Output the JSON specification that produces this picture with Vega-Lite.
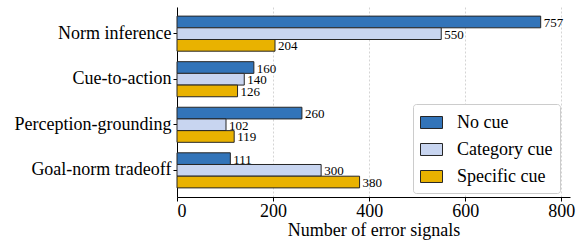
{
  "$schema": "https://vega.github.io/schema/vega-lite/v6.json",
  "width": 393,
  "height": 190,
  "autosize": {"type": "none"},
  "padding": {"left": 177, "top": 7, "right": 6, "bottom": 45},
  "background": "white",
  "data": {
    "values": [
      {"category": "Norm inference", "series": "No cue", "value": 757},
      {"category": "Norm inference", "series": "Category cue", "value": 550},
      {"category": "Norm inference", "series": "Specific cue", "value": 204},
      {"category": "Cue-to-action", "series": "No cue", "value": 160},
      {"category": "Cue-to-action", "series": "Category cue", "value": 140},
      {"category": "Cue-to-action", "series": "Specific cue", "value": 126},
      {"category": "Perception-grounding", "series": "No cue", "value": 260},
      {"category": "Perception-grounding", "series": "Category cue", "value": 102},
      {"category": "Perception-grounding", "series": "Specific cue", "value": 119},
      {"category": "Goal-norm tradeoff", "series": "No cue", "value": 111},
      {"category": "Goal-norm tradeoff", "series": "Category cue", "value": 300},
      {"category": "Goal-norm tradeoff", "series": "Specific cue", "value": 380}
    ]
  },
  "encoding": {
    "y": {
      "field": "category",
      "type": "nominal",
      "sort": ["Norm inference", "Cue-to-action", "Perception-grounding", "Goal-norm tradeoff"],
      "scale": {"paddingInner": 0.23, "paddingOuter": 0.2},
      "axis": {"title": null, "labelPadding": 2, "tickSize": 4}
    },
    "yOffset": {
      "field": "series",
      "type": "nominal",
      "sort": ["No cue", "Category cue", "Specific cue"],
      "scale": {"paddingInner": 0, "paddingOuter": 0}
    },
    "x": {
      "field": "value",
      "type": "quantitative",
      "scale": {"domain": [0, 818], "nice": false},
      "axis": {
        "title": "Number of error signals",
        "values": [0, 200, 400, 600, 800],
        "grid": true,
        "gridDash": [2, 2],
        "gridColor": "#d4d4d4",
        "tickSize": 4,
        "labelPadding": 1,
        "titlePadding": 1
      }
    }
  },
  "layer": [
    {
      "mark": {"type": "bar", "stroke": "#262626", "strokeWidth": 1},
      "encoding": {
        "color": {
          "field": "series",
          "type": "nominal",
          "sort": ["No cue", "Category cue", "Specific cue"],
          "scale": {
            "domain": ["No cue", "Category cue", "Specific cue"],
            "range": ["#3274b9", "#c8d5f0", "#e9b200"]
          },
          "legend": {
            "title": null,
            "orient": "none",
            "legendX": 236,
            "legendY": 97,
            "symbolType": "M-1,-0.545H1V0.545H-1Z",
            "symbolSize": 484,
            "symbolStrokeColor": "#262626",
            "symbolStrokeWidth": 1,
            "symbolOpacity": 1,
            "labelFont": "Liberation Serif",
            "labelFontSize": 18,
            "labelColor": "black",
            "labelOffset": 14,
            "rowPadding": 6,
            "padding": 7,
            "fillColor": "white",
            "strokeColor": "#cccccc",
            "cornerRadius": 3
          }
        }
      }
    },
    {
      "mark": {
        "type": "text",
        "align": "left",
        "baseline": "middle",
        "dx": 3,
        "dy": 1,
        "font": "Liberation Serif",
        "fontSize": 13,
        "color": "black"
      },
      "encoding": {"text": {"field": "value", "type": "quantitative"}}
    }
  ],
  "config": {
    "view": {"stroke": null},
    "axis": {
      "labelFont": "Liberation Serif",
      "labelFontSize": 18,
      "labelColor": "black",
      "titleFont": "Liberation Serif",
      "titleFontSize": 18,
      "titleFontWeight": "normal",
      "titleColor": "black",
      "tickColor": "black",
      "domainColor": "black",
      "domainWidth": 1,
      "tickWidth": 1
    }
  }
}
